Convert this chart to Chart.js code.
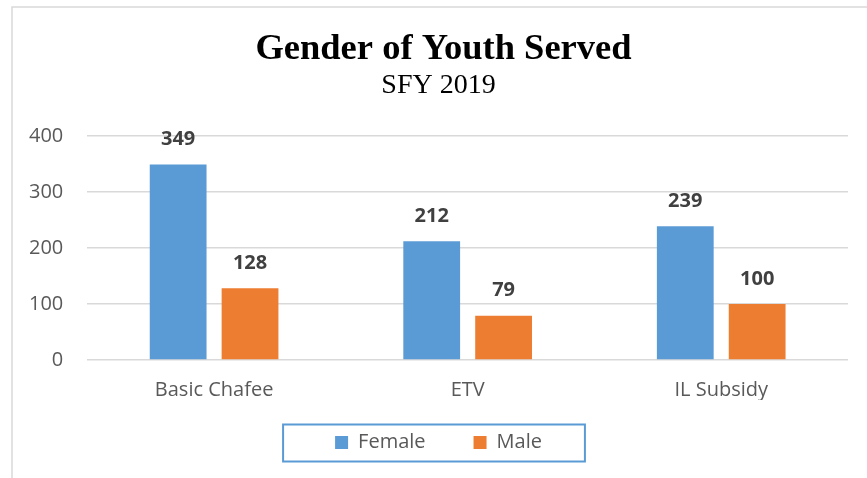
<!DOCTYPE html>
<html>
<head>
<meta charset="utf-8">
<script src="https://cdn.jsdelivr.net/npm/chart.js@4.4.0/dist/chart.umd.min.js"></script>
<style>
  html, body { margin: 0; padding: 0; background: #ffffff; }
  #wrap { width: 867px; height: 478px; position: relative; }
</style>
</head>
<body>
<div id="wrap"><canvas id="c" width="867" height="478"></canvas></div>
<script>
const categories = ["Basic Chafee", "ETV", "IL Subsidy"];
const seriesNames = ["Female", "Male"];
const femaleValues = [349, 212, 239];
const maleValues = [128, 79, 100];
const yTicks = [0, 100, 200, 300, 400];
const chartTitle = "Gender of Youth Served";
const chartSubtitle = "SFY 2019";

const BLUE = "#5B9BD5";
const ORANGE = "#ED7D31";
const SANS = "'Open Sans', 'Liberation Sans', sans-serif";
const SERIF = "'Liberation Serif', 'Times New Roman', serif";

const backgroundAndFrame = {
  id: "backgroundAndFrame",
  beforeDraw(chart) {
    const ctx = chart.ctx;
    ctx.save();
    ctx.fillStyle = "#ffffff";
    ctx.fillRect(0, 0, chart.width, chart.height);
    ctx.strokeStyle = "#d9d9d9";
    ctx.lineWidth = 1.5;
    ctx.strokeRect(12, 7, chart.width + 20, chart.height + 20);
    ctx.restore();
  }
};

const legendTweak = {
  id: "legendTweak",
  afterLayout(chart) {
    const lg = chart.legend;
    if (lg) {
      const dy = -15.5;
      lg.top += dy;
      lg.bottom += dy;
    }
    const tb = chart.titleBlock;
    if (tb) {
      tb.left += 5;
      tb.right += 5;
    }
  },
  afterDraw(chart) {
    const lg = chart.legend;
    if (!lg || !lg.lineWidths) return;
    const pad = lg.options.labels.padding;
    const rowW = lg.lineWidths[0];
    const startX = (lg.left + pad + lg.right - rowW) / 2;
    const rowTop = lg.top + pad;
    const x0 = startX - 52;
    const x1 = startX + rowW - pad + 43;
    const ctx = chart.ctx;
    ctx.save();
    ctx.strokeStyle = BLUE;
    ctx.lineWidth = 2;
    ctx.strokeRect(x0, rowTop - 8, x1 - x0, 37);
    ctx.restore();
  }
};

const valueLabels = {
  id: "valueLabels",
  afterDatasetsDraw(chart) {
    const ctx = chart.ctx;
    ctx.save();
    ctx.font = "bold 20px " + SANS;
    ctx.fillStyle = "#404040";
    ctx.textAlign = "center";
    ctx.textBaseline = "middle";
    chart.data.datasets.forEach((ds, di) => {
      const meta = chart.getDatasetMeta(di);
      meta.data.forEach((el, i) => {
        ctx.fillText(String(ds.data[i]), el.x, el.y - 25);
      });
    });
    ctx.restore();
  }
};

new Chart(document.getElementById("c"), {
  type: "bar",
  data: {
    labels: categories,
    datasets: [
      { label: seriesNames[0], data: femaleValues, backgroundColor: BLUE,
        categoryPercentage: 0.567, barPercentage: 0.79 },
      { label: seriesNames[1], data: maleValues, backgroundColor: ORANGE,
        categoryPercentage: 0.567, barPercentage: 0.79 }
    ]
  },
  options: {
    responsive: false,
    animation: false,
    devicePixelRatio: 1,
    layout: { padding: { left: 29, right: 19, top: 10, bottom: 0 } },
    plugins: {
      title: {
        display: true,
        text: chartTitle,
        color: "#000000",
        font: { family: SERIF, size: 36.5, weight: "bold", lineHeight: 1.1 },
        padding: { top: 20, bottom: 0 }
      },
      subtitle: {
        display: true,
        text: chartSubtitle,
        color: "#000000",
        font: { family: SERIF, size: 28, weight: "normal", lineHeight: 1.1 },
        padding: { top: 0, bottom: 35 }
      },
      legend: {
        display: true,
        position: "bottom",
        labels: {
          color: "#595959",
          font: { family: SANS, size: 20 },
          boxWidth: 13,
          boxHeight: 13,
          padding: 48
        }
      },
      tooltip: { enabled: false }
    },
    scales: {
      x: {
        grid: { display: false, drawTicks: false },
        border: { display: false },
        ticks: { color: "#595959", font: { family: SANS, size: 20 }, padding: 18 },
        afterFit(scale) { scale.height -= 20; }
      },
      y: {
        min: yTicks[0],
        max: yTicks[yTicks.length - 1],
        afterBuildTicks(scale) { scale.ticks = yTicks.map(v => ({ value: v })); },
        grid: { color: "#d9d9d9", lineWidth: 1.5, drawTicks: false },
        border: { display: false },
        ticks: { color: "#595959", font: { family: SANS, size: 20 }, padding: 24 },
        afterFit(scale) { scale.width -= 24; }
      }
    }
  },
  plugins: [backgroundAndFrame, valueLabels, legendTweak]
});
</script>
</body>
</html>
